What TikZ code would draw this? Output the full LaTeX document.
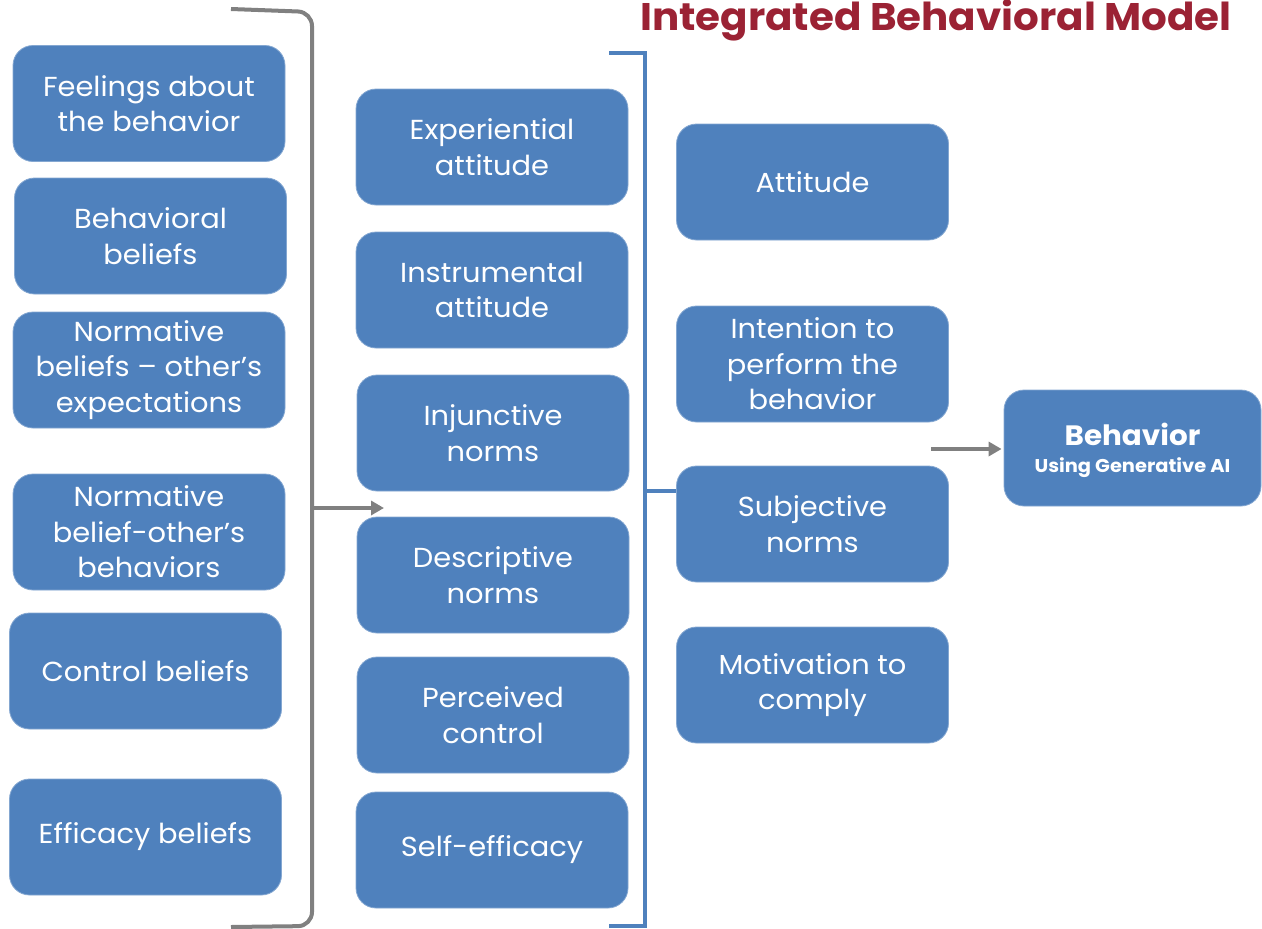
\documentclass[tikz,border=0pt]{standalone}
\usepackage{fontspec}
\setmainfont{Poppins}[FakeStretch=1.05]
\usetikzlibrary{arrows.meta}
\definecolor{boxblue}{RGB}{79,129,189}
\definecolor{brgray}{RGB}{128,128,128}
\definecolor{titlered}{RGB}{155,34,52}
\tikzset{
  card/.style={draw=boxblue!70!white, line width=0.8pt, fill=boxblue, rounded corners=20pt,
    minimum width=272pt, minimum height=116pt, text=white, align=center,
    inner sep=4pt, font=\fontsize{27.5}{35.5}\selectfont},
  graybar/.style={draw=brgray, line width=4pt},
  bluebar/.style={draw=boxblue, line width=4pt},
  grayarrow/.style={draw=brgray, line width=4pt, -{Triangle[length=13pt,width=14pt]}},
}
\begin{document}
\begin{tikzpicture}[x=1pt,y=-1pt]
\useasboundingbox (0,0) rectangle (1262,929);

% title
\node[anchor=base west, inner sep=0pt, text=titlered,
      font=\fontsize{38.5}{42}\selectfont\bfseries] (title) at (640,30) {Integrated Behavioral Model};

% beliefs column
\node[card] (feel) at (149,103.5) {Feelings about\\the behavior};
\node[card] (behb) at (150.5,236) {Behavioral\\beliefs};
\node[card] (normexp) at (149,370) {Normative\\beliefs -- other's\\expectations};
\node[card] (normbeh) at (149,532) {Normative\\belief-other's\\behaviors};
\node[card] (ctrlb) at (145.5,671) {Control beliefs};
\node[card] (effb) at (145.5,837) {Efficacy beliefs};

% constructs column
\node[card] (exper) at (492,147) {Experiential\\attitude};
\node[card] (instr) at (492,290) {Instrumental\\attitude};
\node[card] (injun) at (493,433) {Injunctive\\norms};
\node[card] (descr) at (493,575) {Descriptive\\norms};
\node[card] (perc) at (493,715) {Perceived\\control};
\node[card] (selfe) at (492,850) {Self-efficacy};

% determinants column
\node[card] (att) at (812.5,182) {Attitude};
\node[card] (intent) at (812.5,364) {Intention to\\perform the\\behavior};
\node[card] (subj) at (812.5,524) {Subjective\\norms};
\node[card] (motiv) at (812.5,685) {Motivation to\\comply};

% outcome
\node[card, minimum width=257pt, text depth=0pt] (beh) at (1132.5,448)
  {\raisebox{-4pt}{\fontsize{28}{30}\selectfont\bfseries Behavior}\\[-4pt]{\fontsize{18.5}{22}\selectfont\bfseries Using Generative AI}};

% gray bracket grouping the beliefs
\coordinate (gtl) at (231,9);
\coordinate (gtr) at (312,12);
\coordinate (gbr) at (312,926);
\coordinate (gbl) at (231,927);
\coordinate (gmid) at (312,508);
\coordinate (gend) at (384,508);
\draw[graybar, rounded corners=14pt] (gtl) -- (gtr) -- (gbr) -- (gbl);
\draw[grayarrow] (gmid) -- (gend);

% blue bracket grouping the constructs
\coordinate (btl) at (609,53);
\coordinate (btr) at (645,53);
\coordinate (bbr) at (645,926);
\coordinate (bbl) at (609,926);
\coordinate (bmid) at (645,491);
\draw[bluebar] (btl) -- (btr) -- (bbr) -- (bbl);
\draw[bluebar] (bmid) -- (bmid -| subj.west);

% arrow into the behavior
\coordinate (iend) at (931,449);
\draw[grayarrow, shorten >=2pt] (iend) -- (iend -| beh.west);
\end{tikzpicture}
\end{document}
